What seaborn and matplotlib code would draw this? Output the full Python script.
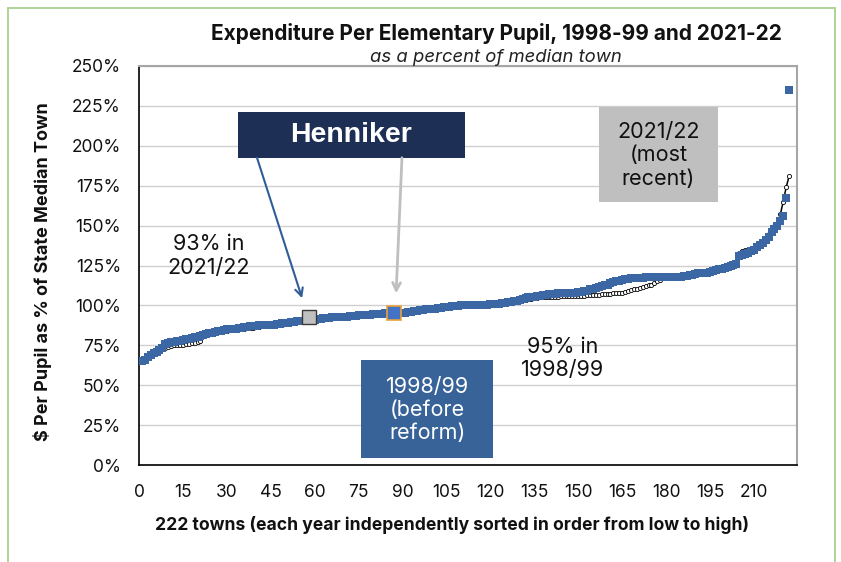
import matplotlib
matplotlib.use("Agg")
import matplotlib.pyplot as plt
import seaborn as sns
import pandas as pd
from matplotlib.patches import Rectangle

# ---------------- data ----------------
towns = list(range(1, 223))

pct_1998 = [
    65, 66, 67.5, 69, 70, 71, 72, 73, 76, 76.5,
    77, 77, 77.5, 78, 78.5, 79, 79, 79.5, 80, 80.5,
    81, 81.5, 82, 82.5, 83, 83.5, 84, 84, 84.5, 85,
    85, 85.5, 85.5, 86, 86, 86.5, 86.5, 87, 87, 87,
    87.5, 87.5, 87.5, 88, 88, 88, 88.5, 88.5, 89, 89,
    89, 89.5, 89.5, 90, 90, 90, 90.5, 91, 91, 91,
    91.5, 91.5, 92, 92, 92, 92.5, 92.5, 93, 93, 93,
    93, 93.5, 93.5, 93.5, 94, 94, 94, 94, 94, 94.5,
    94.5, 94.5, 94.5, 95, 95, 95, 95, 95, 95.5, 95.5,
    95.5, 96, 96, 96.5, 96.5, 97, 97, 97.5, 97.5, 98,
    98, 98.5, 98.5, 99, 99, 99, 99.5, 99.5, 99.5, 100,
    100, 100, 100, 100, 100.5, 100.5, 100.5, 100.5, 100.5, 101,
    101, 101, 101, 101.5, 101.5, 102, 102, 102.5, 103, 103.5,
    104, 104.5, 105, 105, 105.5, 106, 106, 106.5, 106.5, 107,
    107, 107, 107.5, 107.5, 107.5, 108, 108, 108, 108, 108.5,
    108.5, 109, 109, 110, 110.5, 111, 111.5, 112, 112.5, 113,
    114, 114.5, 115, 115.5, 116, 116.5, 116.5, 117, 117, 117,
    117, 117, 117.5, 117.5, 117.5, 117.5, 117.5, 118, 118, 118,
    118, 118, 118, 118, 118, 118.5, 118.5, 119, 119, 119.5,
    120, 120, 120.5, 120.5, 121, 121.5, 122, 122.5, 123, 123.5,
    124, 124.5, 125.5, 126, 131, 131.5, 132, 133, 134, 135,
    136.5, 138, 139, 141, 143, 146, 148, 150, 153, 156,
    167, 235,
]

pct_2021 = [
    65, 66.5, 68, 69.5, 70.5, 71.5, 72.5, 73, 73.5, 74,
    74.5, 75, 75, 75.5, 75.5, 76, 76, 76.5, 76.5, 77,
    77.5, 82, 82.5, 82.5, 83, 83, 83.5, 83.5, 84, 84,
    84.5, 84.5, 85, 85, 85.5, 85.5, 86, 86, 86, 86.5,
    86.5, 87, 87, 87, 87.5, 87.5, 88, 88, 88, 88.5,
    88.5, 89, 89, 89.5, 89.5, 90, 90, 90.5, 90.5, 91,
    91, 91.5, 91.5, 92, 92, 92, 92.5, 92.5, 93, 93,
    93, 93, 93.5, 93.5, 93.5, 94, 94, 94, 94, 94.5,
    94.5, 94.5, 94.5, 94.5, 95, 95, 95, 95, 95, 95.5,
    95.5, 96, 96, 96.5, 96.5, 97, 97, 97, 97.5, 97.5,
    98, 98, 98.5, 98.5, 99, 99, 99, 99.5, 99.5, 99.5,
    100, 100, 100, 100, 100, 100.5, 100.5, 100.5, 100.5, 101,
    101, 101, 101, 101.5, 101.5, 102, 102, 102.5, 103, 103,
    103.5, 103.5, 104, 104, 104.5, 104.5, 105, 105, 105, 105.5,
    105.5, 105.5, 105.5, 106, 106, 106, 106, 106, 106, 106,
    106, 106, 106.5, 106.5, 106.5, 106.5, 106.5, 107, 107, 107,
    107, 107.5, 107.5, 108, 108, 108.5, 109, 109.5, 110, 110.5,
    111, 111.5, 112, 112.5, 113, 114, 115, 116, 117, 117.5,
    118, 118, 118, 118.5, 118.5, 118.5, 119, 119, 119, 119.5,
    120, 120.5, 121, 121.5, 122, 122.5, 123, 123.5, 124, 124.5,
    125, 125.5, 126, 127, 133, 134, 134.5, 135, 135.5, 136,
    136.5, 137, 139, 142, 145, 148, 150, 151, 157, 165,
    174, 181,
]

henniker_rank = [58, 87]
henniker_pct = [93, 95]

y_ticks = [0, 25, 50, 75, 100, 125, 150, 175, 200, 225, 250]
x_ticks = [0, 15, 30, 45, 60, 75, 90, 105, 120, 135, 150, 165, 180, 195, 210]

# ---------------- style ----------------
sns.set_theme(style="white")
plt.rcParams['font.family'] = ['Inter', 'DejaVu Sans']

W, H = 841, 562
fig = plt.figure(figsize=(W / 100, H / 100), dpi=100)
ax = fig.add_axes([139 / W, 1 - 465 / H, 658 / W, 399 / H])

df = pd.DataFrame({"town": towns, "y1998": pct_1998, "y2021": pct_2021})

sns.lineplot(data=df, x="town", y="y2021", ax=ax, color="black", lw=1.1,
             marker="o", markersize=3, markerfacecolor="white",
             markeredgecolor="black", markeredgewidth=0.6, zorder=3)
sns.scatterplot(data=df, x="town", y="y1998", ax=ax, color="#3B67A4",
                marker="s", s=28, linewidth=0, zorder=4)

# Henniker markers
ax.plot(henniker_rank[0], henniker_pct[0], marker="s", ms=10, mfc="#C0C0C0",
        mec="#3A3A3A", mew=1.0, zorder=6, ls="none")
ax.plot(henniker_rank[1], henniker_pct[1], marker="s", ms=10, mfc="#4472C4",
        mec="#E8A33A", mew=1.2, zorder=6, ls="none")

ax.set_xlim(0, 224.7)
ax.set_ylim(0, 250)
ax.set_xticks(x_ticks)
ax.set_xticklabels([str(v) for v in x_ticks])
ax.set_yticks(y_ticks)
ax.set_yticklabels([f"{v}%" for v in y_ticks])
ax.tick_params(length=0, labelsize=12.5, colors="#111111")
ax.tick_params(axis="y", pad=13)
ax.tick_params(axis="x", pad=14)
ax.set_xlabel("")
ax.set_ylabel("")

ax.yaxis.grid(True, color="#D0D0D0", lw=1.0)
ax.xaxis.grid(False)
ax.set_axisbelow(True)
for s in ["left", "bottom"]:
    ax.spines[s].set_color("black")
    ax.spines[s].set_linewidth(1.2)
for s in ["top", "right"]:
    ax.spines[s].set_color("#A6A6A6")
    ax.spines[s].set_linewidth(1.5)

# titles and labels
fig.text(496 / W, 1 - 33 / H, "Expenditure Per Elementary Pupil, 1998-99 and 2021-22",
         ha="center", va="center", fontsize=15, fontweight="bold", color="#111111")
fig.text(496 / W, 1 - 57 / H, "as a percent of median town", ha="center", va="center",
         fontsize=13.3, style="italic", color="#222222")
fig.text(43 / W, 1 - 272 / H, "$ Per Pupil as % of State Median Town", rotation=90,
         ha="center", va="center", fontsize=13, fontweight="bold", color="#111111")
fig.text(452 / W, 1 - 525 / H,
         "222 towns (each year independently sorted in order from low to high)",
         ha="center", va="center", fontsize=12.6, fontweight="bold", color="#111111")

# annotation boxes
ax.add_patch(Rectangle((33.8, 192.5), 111.3 - 33.8, 221.25 - 192.5,
                       facecolor="#1D2F55", edgecolor="none", zorder=7))
ax.text(72.4, 206.9, "Henniker", ha="center", va="center", color="white",
        fontsize=20.5, fontweight="bold", family=["Liberation Sans", "DejaVu Sans"], zorder=8)

ax.add_patch(Rectangle((157.1, 165.0), 197.7 - 157.1, 224.4 - 165.0,
                       facecolor="#BFBFBF", edgecolor="none", zorder=7))
ax.text(177.4, 194.0, "2021/22\n(most\nrecent)", ha="center", va="center",
        color="#111111", fontsize=15.5, linespacing=1.2, zorder=8)

ax.add_patch(Rectangle((75.8, 4.4), 120.9 - 75.8, 65.6 - 4.4,
                       facecolor="#386399", edgecolor="none", zorder=7))
ax.text(98.4, 34.5, "1998/99\n(before\nreform)", ha="center", va="center",
        color="white", fontsize=15.5, linespacing=1.2, zorder=8)

ax.text(23.9, 131.0, "93% in\n2021/22", ha="center", va="center",
        color="#111111", fontsize=15.5, linespacing=1.2, zorder=8)
ax.text(144.8, 66.5, "95% in\n1998/99", ha="center", va="center",
        color="#111111", fontsize=15.5, linespacing=1.2, zorder=8)

# arrows
ax.annotate("", xy=(55.7, 104.5), xytext=(40.3, 192.5),
            arrowprops=dict(arrowstyle="->", color="#2F5D98", lw=1.5,
                            mutation_scale=14, shrinkA=0, shrinkB=0), zorder=8)
ax.annotate("", xy=(87.8, 107.5), xytext=(89.8, 192.5),
            arrowprops=dict(arrowstyle="->", color="#BFBFBF", lw=2.0,
                            mutation_scale=14, shrinkA=0, shrinkB=0), zorder=8)

# green frame
fig.patches.append(Rectangle((8 / W, -0.05), (835 - 8) / W, 1 - 8 / H + 0.05,
                             transform=fig.transFigure, fill=False,
                             edgecolor="#A9D08E", lw=1.3))

fig.savefig("out.png", dpi=100)
